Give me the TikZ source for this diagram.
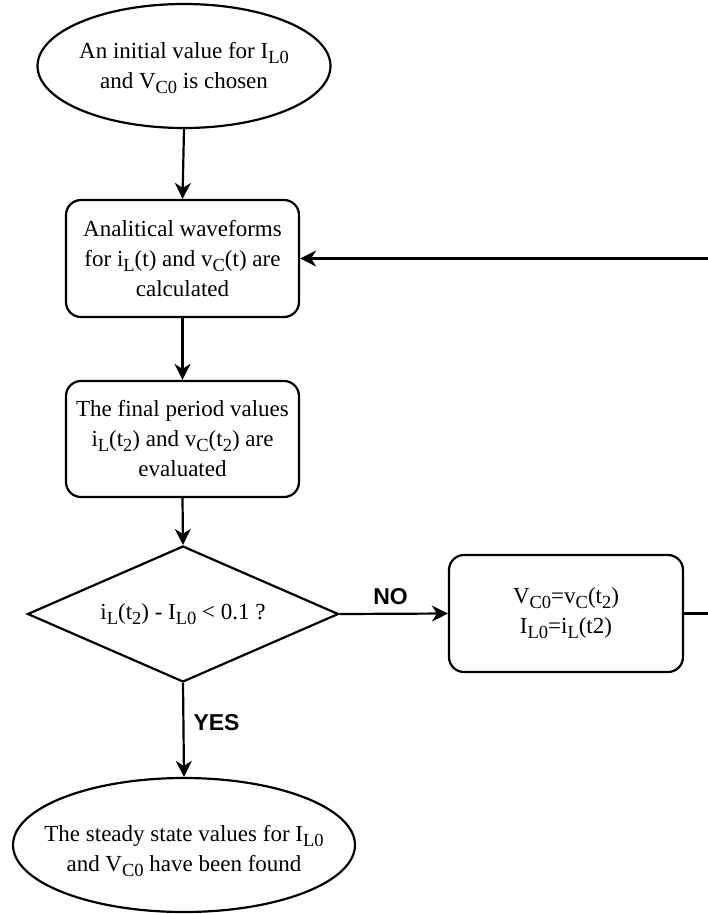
\documentclass[tikz,border=0pt]{standalone}
\usepackage{fontspec}
\setmainfont{Liberation Serif}
\newfontfamily\labelfont{Liberation Sans}
\newcommand{\sbs}[1]{\raisebox{-5pt}{\fontsize{18.5}{18.5}\selectfont #1}}
\usetikzlibrary{shapes.geometric,arrows.meta}
\begin{document}
\begin{tikzpicture}[x=1pt,y=-1pt,
  every node/.style={font=\fontsize{23}{30}\selectfont, align=center, inner sep=0pt},
  line/.style={line width=2.2pt, draw=black},
  arr/.style={line, -{Stealth[length=16pt,width=16pt,inset=5pt]}},
  oval/.style={ellipse, line},
  procbox/.style={rectangle, rounded corners=15pt, line},
  decide/.style={diamond, line, aspect=2.29},
  lbl/.style={font=\labelfont\bfseries\fontsize{23}{28}\selectfont}
]
\useasboundingbox (0,0) rectangle (708,914);
\clip (0,0) rectangle (708,914);
\node[oval, minimum width=293pt, minimum height=124pt] (start) at (184,66) {};
\node (starttext) at ([yshift=-2pt]start.center)
  {An initial value for I\sbs{L0}\\and V\sbs{C0} is chosen};
\node[procbox, minimum width=233pt, minimum height=117pt] (wave) at (182.5,258.5)
  {Analitical waveforms\\for i\sbs{L}(t) and v\sbs{C}(t) are\\calculated};
\node[procbox, minimum width=233pt, minimum height=116pt] (final) at (182.5,439)
  {The final period values\\i\sbs{L}(t\sbs{2}) and v\sbs{C}(t\sbs{2}) are\\evaluated};
\node[decide, minimum width=311pt, minimum height=136pt] (check) at (183,614) {};
\node (checktext) at (check.center)
  {i\sbs{L}(t\sbs{2}) - I\sbs{L0} < 0.1 ?};
\node[procbox, minimum width=234pt, minimum height=117pt] (update) at (566,613.5)
  {V\sbs{C0}=v\sbs{C}(t\sbs{2})\\I\sbs{L0}=i\sbs{L}(t2)};
\node[oval, minimum width=342pt, minimum height=134pt] (done) at (184,845) {};
\node (donetext) at ([yshift=-6pt]done.center)
  {The steady state values for I\sbs{L0}\\and V\sbs{C0} have been found};
\coordinate (loopA) at (720,613.5);
\draw[arr] (start.south) -- (wave.north);
\draw[arr] (wave.south) -- (final.north);
\draw[arr] (final.south) -- (check.north);
\draw[arr] (check.east) -- node[lbl, above=8pt, pos=0.47] (no) {NO} (update.west);
\draw[arr] (check.south) -- node[lbl, right=9pt, pos=0.42] (yes) {YES} (done.north);
\draw[arr] (update.east) -- (loopA) |- (wave.east);
\end{tikzpicture}
\end{document}
